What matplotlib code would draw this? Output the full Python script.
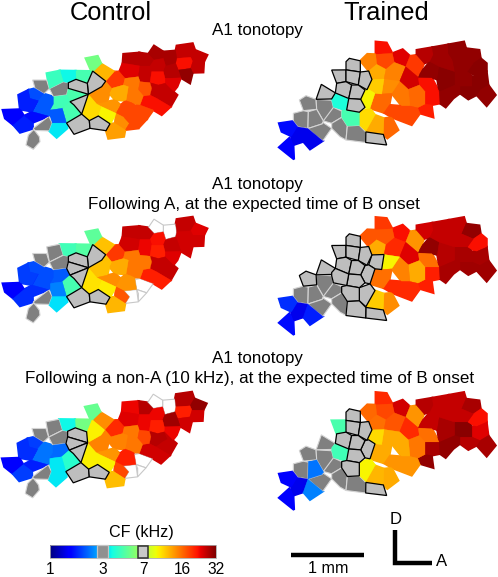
import numpy as np
import matplotlib
matplotlib.use('Agg')
import matplotlib.pyplot as plt
from matplotlib.patches import Polygon, Rectangle

plt.rcParams['font.family'] = ['Liberation Sans', 'DejaVu Sans']

# site outlines, in 3x pixels from the map corner
control_sites = [
	[(530,47),(578,40),(585,60),(572,82),(530,85),(527,62)],
	[(585,60),(622,75),(612,95),(578,95),(572,82)],
	[(530,85),(572,82),(578,95),(572,115),(535,120),(527,100)],
	[(578,95),(612,95),(610,127),(578,128),(572,115)],
	[(535,120),(572,115),(578,128),(570,160),(545,147)],
	[(490,65),(527,62),(530,85),(527,100),(497,108),(490,85)],
	[(445,72),(462,47),(490,65),(490,85),(462,90)],
	[(370,72),(418,68),(420,108),(385,102),(368,100)],
	[(418,68),(445,72),(462,90),(450,108),(420,108)],
	[(462,90),(490,85),(497,108),(490,125),(455,125),(450,108)],
	[(497,108),(527,100),(535,120),(540,140),(495,145),(490,125)],
	[(495,145),(540,140),(545,147),(532,170),(520,185),(495,160)],
	[(358,125),(368,100),(385,102),(420,108),(415,140),(375,145)],
	[(415,140),(420,108),(450,108),(455,125),(450,158),(420,155)],
	[(455,125),(490,125),(495,145),(495,160),(475,165),(450,158)],
	[(450,158),(475,165),(495,160),(505,182),(490,190),(470,205),(450,195)],
	[(505,182),(495,160),(520,185),(532,195),(512,230),(470,205),(490,190)],
	[(470,205),(512,230),(485,255),(460,240),(420,225),(430,198),(450,195)],
	[(318,155),(345,125),(358,125),(375,145),(370,165),(335,175)],
	[(375,145),(415,140),(420,155),(415,180),(385,170),(370,165)],
	[(420,155),(450,158),(455,175),(450,195),(430,198),(415,180)],
	[(385,170),(415,180),(430,198),(420,225),(395,218),(378,212)],
	[(420,225),(460,240),(440,268),(410,258),(405,228)],
	[(335,175),(370,165),(385,170),(378,212),(345,210),(328,190)],
	[(265,195),(305,170),(318,155),(335,175),(328,190),(322,215),(290,222)],
	[(290,222),(322,215),(345,210),(362,225),(348,250),(305,230)],
	[(362,225),(378,212),(395,218),(405,228),(410,258),(372,262),(348,250)],
	[(410,258),(440,268),(415,295),(415,270)],
	[(348,250),(372,262),(388,280),(375,298),(345,280)],
	[(372,262),(410,258),(415,295),(378,305),(375,298),(388,280)],
	[(330,280),(345,280),(375,298),(372,320),(325,326),(318,302)],
	[(265,195),(290,222),(305,230),(295,258),(268,272),(248,250)],
	[(305,230),(348,250),(330,282),(295,258)],
	[(202,282),(240,255),(268,272),(270,295),(222,313)],
	[(268,272),(295,258),(330,282),(318,302),(270,295)],
	[(262,155),(280,125),(316,152),(305,170),(265,190)],
	[(285,122),(310,103),(338,125),(345,125),(316,152)],
	[(257,85),(293,78),(298,100),(283,122),(270,122)],
	[(228,125),(272,125),(262,155),(262,165),(228,148)],
	[(180,122),(225,118),(228,125),(228,148),(205,160),(190,155)],
	[(140,130),(180,122),(190,155),(148,175)],
	[(205,155),(228,148),(262,165),(265,190),(205,175)],
	[(205,175),(265,192),(210,215),(200,195)],
	[(210,215),(265,195),(246,252),(222,225)],
	[(98,150),(140,150),(148,175),(132,190),(105,175)],
	[(148,178),(190,155),(205,160),(205,175),(200,195),(160,200)],
	[(160,200),(200,195),(210,215),(187,235),(150,240),(160,222)],
	[(187,235),(210,215),(222,225),(246,252),(205,280),(197,278)],
	[(150,240),(187,235),(197,278),(160,278)],
	[(85,180),(105,175),(132,192),(115,212),(90,205)],
	[(55,195),(85,180),(90,205),(115,212),(95,240),(60,238)],
	[(115,212),(132,192),(160,200),(160,222),(150,240),(145,258),(100,250)],
	[(95,240),(115,212),(100,250),(145,258),(98,278),(72,258)],
	[(8,240),(60,238),(72,258),(40,285),(15,265)],
	[(40,285),(72,258),(98,278),(98,295),(60,308)],
	[(98,295),(150,260),(160,280),(145,300),(110,305)],
	[(100,298),(118,320),(120,335),(100,358),(78,345),(85,315)],
	[(150,280),(197,278),(202,295),(170,323),(150,310),(148,298)],
]

trained_sites = [
	[(347,35),(380,38),(397,70),(347,73)],
	[(397,70),(428,58),(450,78),(437,110),(403,97)],
	[(347,73),(397,70),(403,97),(378,118),(350,103)],
	[(302,90),(322,72),(347,73),(350,103),(328,122)],
	[(328,122),(350,103),(378,118),(372,147),(340,150)],
	[(378,118),(403,97),(437,110),(418,150),(372,147)],
	[(450,78),(470,75),(492,100),(480,130),(475,142),(437,110)],
	[(470,60),(517,52),(520,75),(510,95),(492,100),(470,75)],
	[(437,110),(475,142),(478,165),(445,178),(418,150)],
	[(475,142),(515,143),(540,180),(535,188),(495,185),(478,165)],
	[(480,130),(510,95),(538,110),(532,148),(515,143),(475,142)],
	[(538,110),(585,125),(585,165),(540,185),(532,148)],
	[(495,185),(535,188),(540,220),(515,225),(495,222)],
	[(473,230),(495,222),(515,225),(520,262),(480,250)],
	[(445,178),(478,165),(495,185),(495,222),(473,235),(450,228)],
	[(395,190),(420,160),(445,178),(450,228),(425,228)],
	[(372,147),(418,150),(420,160),(395,190),(365,192)],
	[(345,190),(365,192),(395,190),(388,225),(372,248),(330,235)],
	[(372,248),(388,225),(425,228),(450,228),(473,235),(480,250),(455,285),(395,262)],
	[(372,265),(395,262),(415,300),(382,325),(370,315)],
	[(345,255),(372,265),(370,315),(322,305),(318,295)],
	[(298,240),(330,235),(345,255),(318,298),(298,285)],
	[(328,148),(340,150),(372,147),(365,192),(345,190),(330,178)],
	[(312,182),(330,178),(345,190),(330,235),(315,232),(302,208)],
	[(258,95),(268,85),(300,95),(305,125),(258,122)],
	[(215,120),(258,115),(258,155),(228,160)],
	[(258,122),(298,128),(295,165),(258,155)],
	[(300,125),(322,125),(335,145),(318,178),(295,165)],
	[(232,160),(258,155),(275,165),(265,205),(228,192)],
	[(275,165),(295,165),(315,180),(302,208),(270,205)],
	[(184,163),(222,182),(215,207),(170,207)],
	[(265,207),(302,208),(315,232),(298,250),(260,240)],
	[(215,195),(228,192),(265,205),(260,240),(225,232),(215,215)],
	[(245,240),(260,240),(298,250),(298,285),(262,288),(245,262)],
	[(315,310),(370,310),(380,345),(317,340)],
	[(118,210),(138,197),(167,207),(170,238),(130,242)],
	[(168,210),(215,210),(218,232),(245,245),(190,272),(170,238)],
	[(100,250),(130,242),(145,245),(142,293),(120,288),(100,270)],
	[(145,245),(170,238),(190,272),(185,285),(142,293)],
	[(190,272),(218,232),(245,245),(245,262),(215,280)],
	[(145,295),(185,285),(190,275),(215,295),(190,330),(165,315)],
	[(215,280),(245,262),(262,288),(258,330),(240,320),(215,295)],
	[(262,288),(298,288),(315,310),(317,335),(258,330)],
	[(57,280),(100,277),(110,292),(100,320),(65,305)],
	[(110,292),(145,297),(130,335),(100,345),(88,318),(100,320)],
	[(145,300),(187,335),(150,358),(130,335)],
	[(57,352),(88,330),(100,345),(102,388)],
	[(517,52),(565,45),(565,70),(578,90),(585,125),(538,110),(510,95),(520,75)],
	[(565,42),(612,35),(618,55),(605,85),(578,90),(565,70)],
	[(618,55),(658,60),(662,85),(640,100),(605,85)],
	[(640,100),(662,85),(680,100),(680,125),(650,138),(622,125)],
	[(578,90),(605,85),(640,100),(622,125),(585,125)],
	[(585,125),(622,125),(637,140),(637,170),(600,170),(585,165)],
	[(637,140),(650,138),(680,125),(685,165),(660,180),(637,170)],
	[(660,180),(685,165),(707,195),(680,228),(650,195)],
	[(600,170),(637,170),(660,180),(650,195),(625,208),(600,190)],
	[(540,185),(585,165),(600,170),(600,190),(580,205),(557,232),(540,220)],
]

# CF in kHz per site, 'G' = grey site, 'S' = outlined silver site, 'W' = empty site
control_tonotopy = [26,26,22,26,30,28,28,27,27,26,27,24,24,26,22,26,26,22,19,15,17,15,18,12.5,14,13.5,18,18,14,18,13,10.5,9.5,
	'S','S','S',12,5.5,4.5,3.6,4.3,'S',4.6,'S','G','G',4.4,4.5,2.1,2,1.7,2.1,1.6,1.5,1.7,'G','G',3.4]
control_after_a = [26,24,25,25,25,'W','W',26,26,22,26,24,25,23,21,26,26,21,19,15,15,15,'W',12.5,11.5,14,13.5,'W',17,'W',12,10.2,9.8,
	'S','S','S',11.5,5,4.8,4.4,'G','S','S','S','G','G',2.1,4.5,2.4,2,1.9,2,1.8,1.5,1.8,'G','G',3.3]
control_after_non_a = [27,30,21,25,25,'W','W',23,27,23,29,23,24,23,21,27,26,25,20,15,18,15,'W',14.5,14.5,13.5,21,'W',18,'W',11.7,9.6,9.6,
	'S','S',9.6,14,5.2,5.5,3.6,'G','S','S','S','G','G',2.2,4,3.4,1.9,1.8,2.3,1.7,1.5,1.9,'G','G',3.4]

trained_tonotopy = [22,24,18,14.5,12.5,14.5,19,27,25,22,30,31,22,21,16,15,14,16,18,16,12.5,10.5,11,9.5,
	'S','S','S','S','S','S','S','S',3.8,4.5,'S','G','G','G','G','G','G','G','G',1.6,1.4,1.4,1.5,29,30,30,31,30,30,31,30,31,30]
trained_after_a = [19,22,17,17,12.5,20,13.5,25,24,15.5,30,27,21,21,12.5,14.5,9.5,15.5,20,14,11,'S','S','S',
	'S','S','S','S','S','S','S','S','S','S','S','S','G','G','G','G','G','G','S',1.8,1.4,1.7,1.6,26,26,30,22,26,28,28,29,29,28]
trained_after_non_a = [20,25,18,16,15.5,17,13.5,27,20,15.5,26,28,28,30,15,12.5,12.5,12.5,13.5,12.5,12,9.5,10.5,'S',
	'S',4.6,'S','S','S','S','G','S',4.4,'S','S','G','G','G',2.3,'G','G','G','G',1.5,1.4,2.4,1.5,26,26,28,22,26,31,24,28,27,30]

row_titles = [
	['A1 tonotopy'],
	['A1 tonotopy', 'Following A, at the expected time of B onset'],
	['A1 tonotopy', 'Following a non-A (10 kHz), at the expected time of B onset'],
]
cbar_ticks = [1, 3, 7, 16, 32]

W, H = 498, 577
fig = plt.figure(figsize=(W / 100, H / 100), dpi=100)
ax = fig.add_axes([0, 0, 1, 1])
ax.set_xlim(0, W)
ax.set_ylim(H, 0)
ax.axis('off')

jet = plt.get_cmap('jet')

def cf_colour(cf):
	return jet(np.log2(cf) / 5)

# the hand traced corners of neighbouring sites do not quite meet, pull them together
def snap(sites, tol=13):
	pts = np.array([p for s in sites for p in s], dtype=float)
	out = pts.copy()
	for i, p in enumerate(pts):
		near = np.hypot(*(pts - p).T) < tol
		out[i] = pts[near].mean(axis=0)
	res = []
	k = 0
	for s in sites:
		res.append(out[k:k + len(s)])
		k += len(s)
	return res

control_snapped = snap(control_sites)
trained_snapped = snap(trained_sites)

def draw_map(sites, values, dx, dy):
	for pts, v in zip(sites, values):
		xy = pts / 3 + (dx, dy)
		if v == 'S':
			ax.add_patch(Polygon(xy, fc='#bebebe', ec='black', lw=0.9, zorder=5))
		elif v == 'G':
			ax.add_patch(Polygon(xy, fc='#808080', ec='#d4d4d4', lw=0.8, zorder=3))
		elif v == 'W':
			ax.add_patch(Polygon(xy, fc='white', ec='#c8c8c8', lw=0.8, zorder=2.5))
		else:
			c = cf_colour(v)
			# wide stroke underneath fills the slivers left between sites
			ax.add_patch(Polygon(xy, fc=c, ec=c, lw=1.6, zorder=2))
			ax.add_patch(Polygon(xy, fc=c, ec=c, lw=0.2, zorder=4))

draw_map(control_snapped, control_tonotopy, 0, 30)
draw_map(control_snapped, control_after_a, 0, 203.5)
draw_map(control_snapped, control_after_non_a, -0.7, 378.5)
draw_map(trained_snapped, trained_tonotopy, 260, 30)
draw_map(trained_snapped, trained_after_a, 260, 205.5)
draw_map(trained_snapped, trained_after_non_a, 260, 380.5)

ax.text(110.5, 20, 'Control', fontsize=18.4, ha='center', va='baseline')
ax.text(386.5, 20, 'Trained', fontsize=18.4, ha='center', va='baseline')
line_x = [257, 253.5, 250]
for lines, base, x2 in zip(row_titles, [35, 189, 363], line_x):
	ax.text(257, base, lines[0], fontsize=12.25, ha='center', va='baseline')
	if len(lines) > 1:
		ax.text(x2, base + 20, lines[1], fontsize=12.25, ha='center', va='baseline')

# colour bar
grad = np.linspace(0, 1, 256)[None, :]
ax.imshow(grad, cmap='jet', extent=(50, 216, 558, 545), aspect='auto', zorder=2)
ax.set_xlim(0, W)
ax.set_ylim(H, 0)
ax.add_patch(Rectangle((50, 545), 166, 13, fc='none', ec='#a8a8a8', lw=0.6, zorder=3))
ax.add_patch(Rectangle((97, 545), 11, 13, fc='#909090', ec='#c4c4c4', lw=0.9, zorder=4))
ax.add_patch(Rectangle((138, 546), 10, 11.5, fc='#c8c8c8', ec='#303030', lw=1.1, zorder=4))
ax.text(141.5, 533, 'CF (kHz)', fontsize=11.6, ha='center', va='center')
for t in cbar_ticks:
	ax.text(50 + 166 * np.log2(t) / 5, 569.5, str(t), fontsize=11.2, ha='center', va='center')

# scale bar and orientation
ax.plot([291, 364], [555, 555], color='black', lw=3.2, solid_capstyle='butt')
ax.text(328, 568.5, '1 mm', fontsize=11.6, ha='center', va='center')
ax.plot([395, 395, 432], [530, 563, 563], color='black', lw=3.2, solid_joinstyle='miter', solid_capstyle='butt')
ax.text(396, 520, 'D', fontsize=12, ha='center', va='center')
ax.text(442, 562, 'A', fontsize=12, ha='center', va='center')

fig.savefig('out.png', dpi=100)
